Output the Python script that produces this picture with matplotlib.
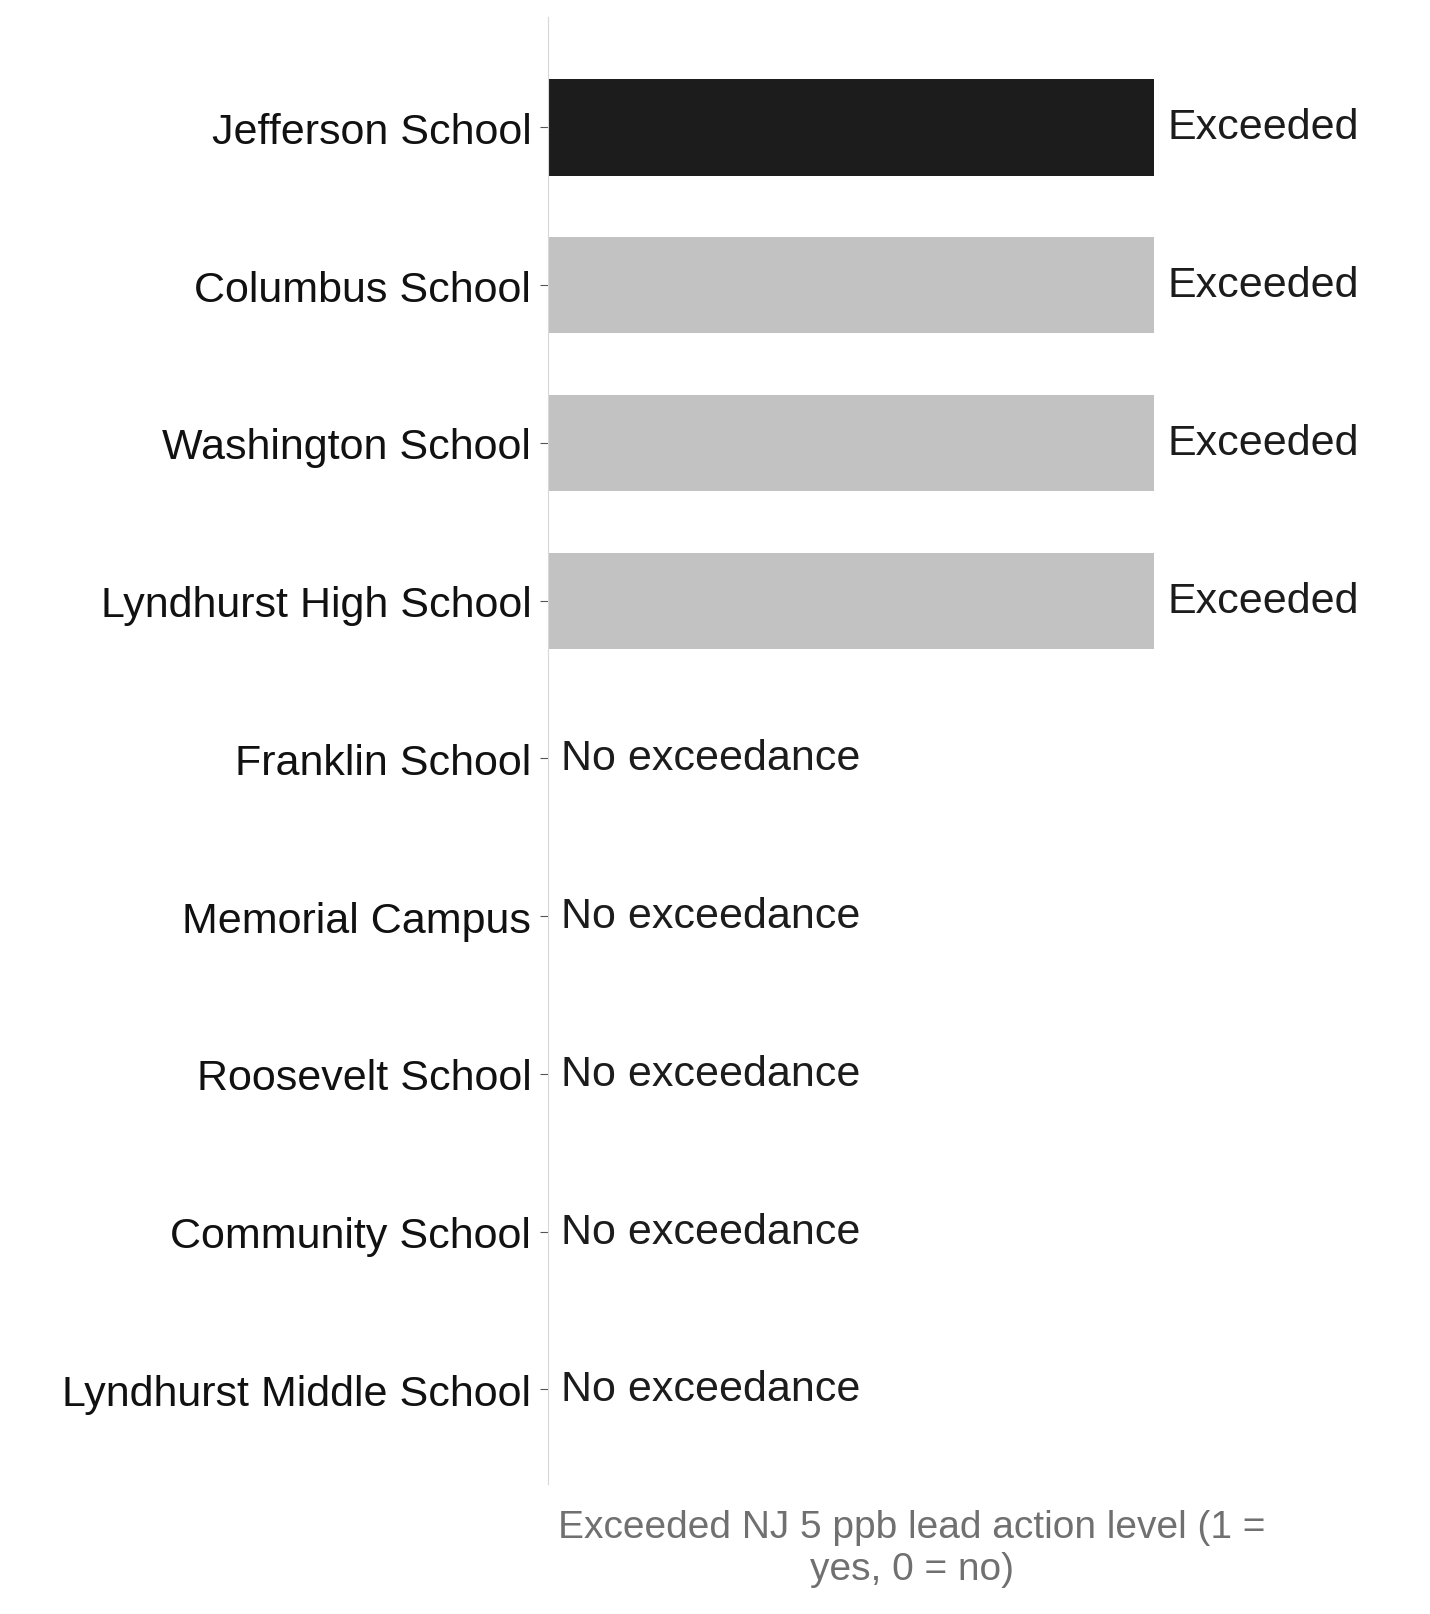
import matplotlib
matplotlib.use("Agg")
import matplotlib.pyplot as plt

plt.rcParams['font.family'] = ['Liberation Sans', 'DejaVu Sans']

schools = ["Jefferson School", "Columbus School", "Washington School", "Lyndhurst High School",
           "Franklin School", "Memorial Campus", "Roosevelt School", "Community School",
           "Lyndhurst Middle School"]
exceeded = [1, 1, 1, 1, 0, 0, 0, 0, 0]
labels = ["Exceeded" if v else "No exceedance" for v in exceeded]
colors = ["#1c1c1c", "#c2c2c2", "#c2c2c2", "#c2c2c2", "#c2c2c2", "#c2c2c2", "#c2c2c2", "#c2c2c2", "#c2c2c2"]

fig = plt.figure(figsize=(14.3, 16.15), dpi=100)
ax = fig.add_axes([548/1430, 1-1485/1615, (1275-548)/1430, (1485-18)/1615])
y = list(range(len(schools)))
ax.barh(y, exceeded, height=0.61, color=colors)
for yi, v, t in zip(y, exceeded, labels):
    ax.text(v + 0.022, yi, t, va='center', ha='left', fontsize=31, color='#1c1c1c')
ax.set_ylim(len(schools) - 0.4, -0.7)
ax.set_xlim(0, 1.2)
ax.set_yticks(y)
ax.set_yticklabels(schools, fontsize=31, color='#111111')
ax.set_xticks([])
ax.tick_params(axis='y', length=6, color='#555555', pad=6)
for s in ['top', 'right', 'bottom']:
    ax.spines[s].set_visible(False)
ax.spines['left'].set_color('#d8d8d8')
ax.set_xlabel("Exceeded NJ 5 ppb lead action level (1 =\nyes, 0 = no)", fontsize=28,
              color='#707070', labelpad=18)
fig.savefig("out.png", dpi=100)
